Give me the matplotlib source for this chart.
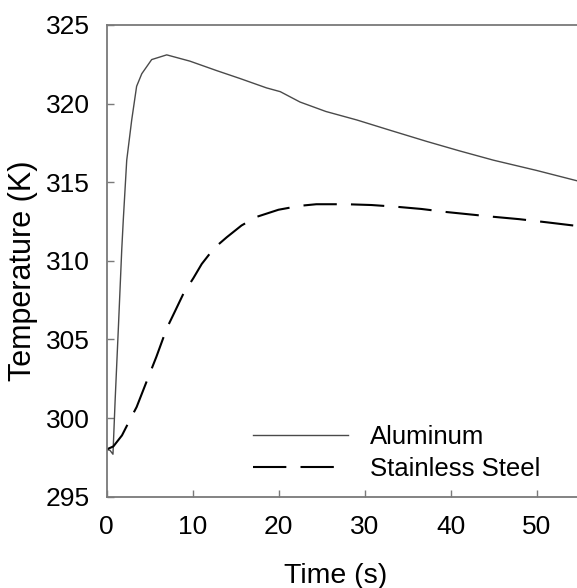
# Temperature history of aluminum vs stainless steel
import matplotlib
matplotlib.use('Agg')
import matplotlib.pyplot as plt

plt.rcParams['font.family'] = ['Liberation Sans', 'DejaVu Sans']

# Aluminum curve (time in s, temperature in K)
al_time = [0.0, 0.4, 0.75, 1.0, 1.4, 1.77, 1.95, 2.35, 2.93, 3.5, 4.1, 5.25, 7.0,
           9.7, 12.8, 15.5, 18.6, 20.2, 22.5, 25.5, 29.1, 33.0, 37.2, 41.0, 45.0,
           50.0, 55.0]
al_temp = [298.0, 297.95, 297.7, 301.1, 306.0, 310.7, 312.6, 316.4, 318.96, 321.1,
           321.9, 322.8, 323.1, 322.7, 322.1, 321.6, 321.0, 320.76, 320.1, 319.5,
           318.96, 318.3, 317.6, 317.0, 316.4, 315.75, 315.05]

# Stainless steel curve
ss_time = [0.0, 0.8, 1.8, 2.73, 3.5, 4.86, 5.8, 7.0, 7.97, 8.93, 10.1, 11.07, 12.5,
           13.98, 15.7, 17.47, 20.0, 22.5, 24.4, 27.9, 30.8, 33.7, 36.6, 39.6,
           42.3, 45.0, 48.0, 51.2, 55.0]
ss_temp = [298.0, 298.2, 298.9, 299.9, 300.7, 302.6, 303.9, 305.7, 306.8, 307.9,
           308.9, 309.8, 310.8, 311.5, 312.25, 312.8, 313.25, 313.5, 313.6, 313.6,
           313.55, 313.44, 313.3, 313.1, 312.95, 312.8, 312.65, 312.45, 312.2]

labels = ['Aluminum', 'Stainless Steel']
x_ticks = [0, 10, 20, 30, 40, 50]
y_ticks = [295, 300, 305, 310, 315, 320, 325]

fig = plt.figure(figsize=(5.77, 5.88), dpi=100)
ax = fig.add_axes([0.1846, 0.1553, 0.8198, 0.8022])

ax.plot(al_time, al_temp, color='#4a4a4a', lw=1.0, label=labels[0])
ax.plot(ss_time, ss_temp, color='black', lw=1.5, dashes=(16, 6.8), label=labels[1])

ax.set_xlim(0, 55)
ax.set_ylim(295, 325)
ax.set_xticks(x_ticks)
ax.set_yticks(y_ticks)

for side in ['left', 'bottom', 'top']:
    ax.spines[side].set_color('#7a7a7a')
    ax.spines[side].set_linewidth(1.3)
ax.spines['right'].set_visible(False)

ax.tick_params(direction='in', length=5, width=1, color='#7a7a7a',
               labelsize=19, pad=12)
ax.tick_params(axis='x', pad=13)

ax.set_xlabel('Time (s)', fontsize=20.5)
ax.set_ylabel('Temperature (K)', fontsize=22)
ax.xaxis.set_label_coords(0.485, -0.14)
ax.yaxis.set_label_coords(-0.145, 0.479)

ax.legend(loc='upper left', bbox_to_anchor=(0.31, 0.152), frameon=False,
          fontsize=18.5, handlelength=3.7, handletextpad=0.85,
          labelspacing=0.3, borderpad=0, borderaxespad=0)

fig.savefig('out.png', dpi=100)
